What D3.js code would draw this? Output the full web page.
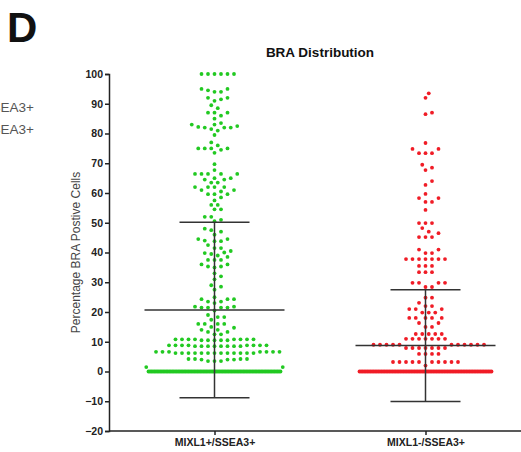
<!DOCTYPE html>
<html>
<head>
<meta charset="utf-8">
<script src="https://cdn.jsdelivr.net/npm/d3@7"></script>
<style>
  body { margin: 0; background: #fff; }
  text { font-family: "Liberation Sans", Arial, sans-serif; }
</style>
</head>
<body>
<svg width="521" height="452"></svg>
<script>
// categories and read-off values
var groups = ["MIXL1+/SSEA3+", "MIXL1-/SSEA3+"];
var groupColors = ["#22c922", "#f01c26"];
var zeroCounts = [90, 85];
var greenValues = [
    100, 100, 100, 100, 100, 100,
    94, 95, 94.5, 95, 94,
    92, 91.5, 91, 92,
    89.5, 88.5,
    87, 87, 86, 87,
    85,
    83, 82.5, 82, 82, 82.2, 82, 83, 83.5, 81, 81.5, 79.5,
    77, 76,
    75, 75, 74.5, 75, 75, 73.5,
    69.7,
    66.4, 66.4, 66.4, 66.4, 66.4, 67.7,
    65, 64.5, 64.5, 65, 63.5,
    62, 62, 61, 61, 62, 62, 63.5, 60.5,
    59.6, 59.6, 59.6,
    58.5, 57.5,
    56, 54.5, 54.5, 56,
    52, 52, 51, 50.5,
    48, 47, 47.5, 46,
    44.5, 44, 43.8, 43.8, 44.5, 42.5,
    41.5, 40.5, 41.5, 39.5, 39.8, 40,
    37.5, 38.5, 39, 37.5, 37.5,
    36, 35, 35.3, 36, 35.3,
    33, 32, 31,
    29, 28.5, 27.5,
    25, 24.3, 24.3, 24.3, 23.5, 23.5, 23,
    21.5, 21.5, 21.8, 21.8, 21.5, 21.5, 20.5,
    19, 18.3, 17.4, 18.3,
    16, 16, 16, 16, 15, 14.7,
    14, 13.3, 12.5, 12.5, 13.3, 14,
    10.8, 10.8, 10.8, 10.8, 10.5, 10.5, 10.5, 10.5, 10.5, 10.8, 10.8, 10.8, 10.8,
    8.8, 8.8, 8.5, 8.5, 8.5, 8.8, 8.5, 8.5, 8.8, 8.5, 8.8, 8.5, 8.8, 8.5, 8.8, 8.8,
    6.6, 6.2, 6.2, 6.2, 6.2, 6.2, 6.2, 6.6, 6.2, 6.6, 6.2, 6.6, 6.2, 6.2, 6.6, 6.2, 6.2, 6.2, 6.6, 6.6,
    4.2, 4, 4.2, 3.5, 3.5, 4, 3.5, 4, 4.2, 4.2,
    1.5, 1.5
];
var redValues = [
    93.5, 92, 87, 86.5,
    76.8, 74.8, 74.8, 73.4, 73.4, 73.4,
    69.5, 68.5, 67.7, 64, 62.7,
    59.7, 58.3, 58.3, 57, 57, 54.3,
    49.9, 49.9, 49.9, 48.2, 47, 46.5, 45.2, 45.2, 45.2,
    41, 41, 39.8, 39.8,
    37.8, 37.8, 37.8, 37.8, 37.8, 37.8, 37.8,
    35.5, 35.5, 35.5, 33.4, 33.4, 33.4,
    29.8, 29.8, 29.8, 29.8, 28.4, 28.4,
    24.8, 24.8, 23.1, 22, 22, 21, 21, 21,
    19.8, 19.8, 19.8, 18, 18, 18, 18, 18,
    16.3, 16.3, 15, 15,
    12.6, 12.6, 12.6, 12.6, 12.6,
    11, 11, 11, 11, 11, 11, 11,
    9, 9, 9, 9, 9, 9, 9, 9, 9, 9, 9,
    7.9, 7.9, 7.9, 7.9, 7.9, 7.9, 7.9,
    5.9, 5.9, 5.9, 5.9,
    3.2, 3.2, 3.2, 3.2, 3.2, 3.2, 3.2, 3.2, 3.2, 3.2,
    2.0
];
var means = [20.7, 8.7];
var sds = [29.5, 18.8];
var yTicks = [-20, -10, 0, 10, 20, 30, 40, 50, 60, 70, 80, 90, 100];
var legendLabels = ["MIXL1+/SSEA3+", "MIXL1-/SSEA3+"];

var svg = d3.select("svg");

var y = d3.scaleLinear().domain([-20, 100]).range([431, 74]);
var x = d3.scalePoint().domain(groups).range([109, 531]).padding(0.5);

// panel letter and legend (cut off by the left edge, as in the figure)
svg.append("text").attr("x", 7).attr("y", 42)
    .style("font-size", "42px").style("font-weight", "bold").attr("fill", "#111")
    .text("D");

svg.selectAll("text.legend").data(legendLabels).enter().append("text")
    .attr("class", "legend")
    .attr("x", 34).attr("y", function (d, i) { return 112 + i * 22; })
    .attr("text-anchor", "end")
    .style("font-size", "13.5px").attr("fill", "#555")
    .text(function (d) { return d; });

svg.append("text").attr("x", 320).attr("y", 57)
    .attr("text-anchor", "middle")
    .style("font-size", "13.5px").style("font-weight", "bold").attr("fill", "#111")
    .text("BRA Distribution");

// axes
var yAxis = svg.append("g")
    .attr("transform", "translate(109,0)")
    .call(d3.axisLeft(y).tickValues(yTicks).tickSize(4).tickPadding(2));
var xAxis = svg.append("g")
    .attr("transform", "translate(0,431)")
    .call(d3.axisBottom(x).tickSize(4).tickPadding(4).tickSizeOuter(0));
[yAxis, xAxis].forEach(function (a) {
    a.select(".domain").attr("stroke", "#222").attr("stroke-width", 1.5);
    a.selectAll(".tick line").attr("stroke", "#222").attr("stroke-width", 1.5);
    a.selectAll(".tick text").attr("fill", "#222")
        .style("font-weight", "bold").style("font-family", "'Liberation Sans', Arial, sans-serif");
});
yAxis.selectAll(".tick text").style("font-size", "10.5px");
xAxis.selectAll(".tick text").style("font-size", "10.5px");
xAxis.select(".domain").attr("d", "M109,0H521");

svg.append("text")
    .attr("transform", "translate(80," + ((y(100) + y(-20)) / 2) + ") rotate(-90)")
    .attr("text-anchor", "middle")
    .style("font-size", "12px").attr("fill", "#444")
    .text("Percentage BRA Postive Cells");

// column scatter (beeswarm on a half-spacing grid)
var halfW = 66, g = 3.25, D = 5.5, r = 1.9;

function swarm(values, cx, zeroN) {
    var y0 = y(0), placed = [], pts = [];
    for (var i = 0; i < zeroN; i++) {
        pts.push({ x: cx - halfW + 2 * halfW * i / (zeroN - 1), y: y0 });
    }
    var sorted = values.slice().sort(d3.ascending);
    sorted.forEach(function (v) {
        var py = y(v);
        for (var k = 0; k < 60; k++) {
            var offs = k === 0 ? [0] : [k * g, -k * g];
            var hit = offs.find(function (o) {
                if (Math.abs(py - y0) < D && Math.abs(o) < halfW) return false;
                return placed.every(function (q) {
                    var dx = cx + o - q.x, dy = py - q.y;
                    return dx * dx + dy * dy >= D * D;
                });
            });
            if (hit !== undefined) {
                var p = { x: cx + hit, y: py };
                placed.push(p);
                pts.push(p);
                return;
            }
        }
    });
    return pts;
}

var series = [greenValues, redValues];
groups.forEach(function (grp, gi) {
    var pts = swarm(series[gi], x(grp), zeroCounts[gi]);
    svg.append("g").selectAll("circle").data(pts).enter().append("circle")
        .attr("cx", function (d) { return d.x; })
        .attr("cy", function (d) { return d.y; })
        .attr("r", r)
        .attr("fill", groupColors[gi]);
});

// mean +/- SD
groups.forEach(function (grp, gi) {
    var cx = x(grp), m = means[gi], s = sds[gi];
    var eb = svg.append("g").attr("stroke", "#333").attr("stroke-width", 1.5);
    eb.append("line").attr("x1", cx).attr("x2", cx).attr("y1", y(m + s)).attr("y2", y(m - s));
    eb.append("line").attr("x1", cx - 70).attr("x2", cx + 70).attr("y1", y(m)).attr("y2", y(m));
    eb.append("line").attr("x1", cx - 35).attr("x2", cx + 35).attr("y1", y(m + s)).attr("y2", y(m + s));
    eb.append("line").attr("x1", cx - 35).attr("x2", cx + 35).attr("y1", y(m - s)).attr("y2", y(m - s));
});
</script>
</body>
</html>
